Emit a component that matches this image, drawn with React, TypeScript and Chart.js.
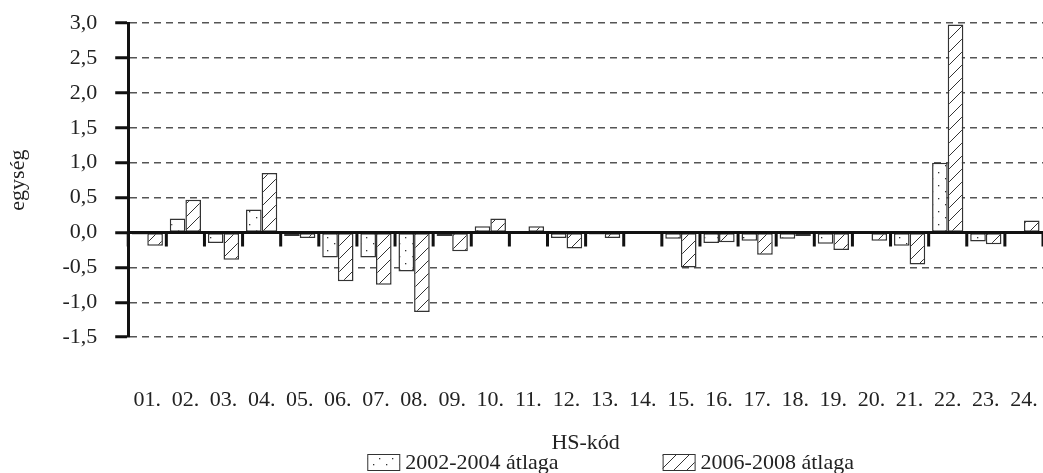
import React, { useEffect, useRef } from 'react';
import { Chart, registerables } from 'chart.js';

Chart.register(...registerables);

const categories = ['01.', '02.', '03.', '04.', '05.', '06.', '07.', '08.', '09.', '10.', '11.', '12.', '13.', '14.', '15.', '16.', '17.', '18.', '19.', '20.', '21.', '22.', '23.', '24.'];
const avg2002_2004 = [-0.03, 0.2, -0.15, 0.33, -0.05, -0.36, -0.36, -0.56, -0.05, 0.09, 0.01, -0.08, -0.03, 0, -0.09, -0.15, -0.12, -0.09, -0.16, -0.01, -0.19, 1.0, -0.13, 0];
const avg2006_2008 = [-0.19, 0.47, -0.39, 0.85, -0.08, -0.7, -0.75, -1.14, -0.27, 0.2, 0.09, -0.23, -0.08, 0, -0.5, -0.14, -0.32, -0.05, -0.25, -0.12, -0.46, 2.98, -0.17, 0.17];
const seriesLabels = ['2002-2004 átlaga', '2006-2008 átlaga'];
const yTicks = { min: -1.5, max: 3, step: 0.5 };
const yTitle = 'egység';
const xTitle = 'HS-kód';

const FONT = '"Liberation Serif", "Times New Roman", serif';
const FSIZE = 22;
const INK = '#222';
const AXIS = '#111';

function makeDots(): CanvasPattern | string {
  const c = document.createElement('canvas');
  c.width = 13;
  c.height = 13;
  const g = c.getContext('2d');
  if (!g) return '#fff';
  g.fillStyle = '#ffffff';
  g.fillRect(0, 0, 13, 13);
  g.fillStyle = '#333';
  g.fillRect(2, 3, 1.3, 1.3);
  g.fillRect(9, 9, 1.3, 1.3);
  return g.createPattern(c, 'repeat') || '#fff';
}

function makeHatch(): CanvasPattern | string {
  const s = 13;
  const c = document.createElement('canvas');
  c.width = s;
  c.height = s;
  const g = c.getContext('2d');
  if (!g) return '#fff';
  g.fillStyle = '#ffffff';
  g.fillRect(0, 0, s, s);
  g.strokeStyle = '#333';
  g.lineWidth = 1;
  g.beginPath();
  g.moveTo(-1, s + 1);
  g.lineTo(s + 1, -1);
  g.moveTo(-2, 2);
  g.lineTo(2, -2);
  g.moveTo(s - 2, s + 2);
  g.lineTo(s + 2, s - 2);
  g.stroke();
  return g.createPattern(c, 'repeat') || '#fff';
}

export default function App() {
  const ref = useRef<HTMLCanvasElement | null>(null);

  useEffect(() => {
    if (!ref.current) return;
    const dots = makeDots();
    const hatch = makeHatch();
    const fills = [dots, hatch];

    const zeroAxisPlugin = {
      id: 'zeroAxis',
      afterDatasetsDraw(chart: any) {
        const ctx = chart.ctx as CanvasRenderingContext2D;
        const xs = chart.scales.x;
        const ys = chart.scales.y;
        const area = chart.chartArea;
        const y0 = ys.getPixelForValue(0);
        const n = categories.length;
        const half = (xs.getPixelForValue(1) - xs.getPixelForValue(0)) / 2;
        ctx.save();
        ctx.strokeStyle = AXIS;
        ctx.lineWidth = 3;
        ctx.beginPath();
        ctx.moveTo(area.left, y0);
        ctx.lineTo(area.right, y0);
        ctx.stroke();
        ctx.beginPath();
        for (let i = 0; i <= n; i++) {
          const xb = xs.getPixelForValue(0) - half + i * 2 * half;
          ctx.moveTo(xb, y0);
          ctx.lineTo(xb, y0 + 14);
        }
        ctx.stroke();
        ctx.restore();
      },
    };

    const legendPlugin = {
      id: 'customLegend',
      afterDraw(chart: any) {
        const ctx = chart.ctx as CanvasRenderingContext2D;
        const area = chart.chartArea;
        ctx.save();
        ctx.font = `${FSIZE}px ${FONT}`;
        ctx.textBaseline = 'middle';
        ctx.textAlign = 'left';
        const boxW = 32;
        const boxH = 16;
        const gapText = 6;
        const gapItems = 104;
        const widths = seriesLabels.map((t) => ctx.measureText(t).width);
        const total = widths.reduce((a, w) => a + boxW + gapText + w, 0) + gapItems;
        let x = (area.left + area.right) / 2 + 25 - total / 2;
        const yc = chart.height - 11;
        seriesLabels.forEach((t, i) => {
          ctx.fillStyle = fills[i] as any;
          ctx.fillRect(x, yc - boxH / 2, boxW, boxH);
          ctx.strokeStyle = '#333';
          ctx.lineWidth = 1;
          ctx.strokeRect(x + 0.5, yc - boxH / 2 + 0.5, boxW, boxH);
          ctx.fillStyle = INK;
          ctx.fillText(t, x + boxW + gapText, yc + 1);
          x += boxW + gapText + widths[i] + gapItems;
        });
        ctx.restore();
      },
    };

    const chart = new Chart(ref.current, {
      type: 'bar',
      data: {
        labels: categories,
        datasets: [
          {
            label: seriesLabels[0],
            data: avg2002_2004,
            backgroundColor: dots as any,
            borderColor: '#333',
            borderWidth: 1.5,
            borderSkipped: false,
            categoryPercentage: 0.82,
            barPercentage: 1,
          },
          {
            label: seriesLabels[1],
            data: avg2006_2008,
            backgroundColor: hatch as any,
            borderColor: '#333',
            borderWidth: 1.5,
            borderSkipped: false,
            categoryPercentage: 0.82,
            barPercentage: 1,
          },
        ],
      },
      options: {
        animation: false,
        responsive: true,
        maintainAspectRatio: false,
        layout: { padding: { top: 23, right: 0, left: 0, bottom: 17 } },
        plugins: {
          legend: { display: false },
          tooltip: { enabled: false },
        },
        scales: {
          x: {
            type: 'category',
            position: 'bottom',
            offset: true,
            grid: { display: false, drawTicks: true, tickLength: 47 },
            border: { display: false },
            ticks: {
              autoSkip: false,
              maxRotation: 0,
              padding: 3,
              color: INK,
              font: { family: FONT, size: FSIZE },
            },
            title: {
              display: true,
              text: xTitle,
              color: INK,
              font: { family: FONT, size: FSIZE },
              padding: { top: 13, bottom: 0 },
            },
          },
          y: {
            position: 'left',
            min: yTicks.min,
            max: yTicks.max,
            afterFit: (s: any) => {
              s.paddingTop = 0;
              s.paddingBottom = 0;
            },
            ticks: {
              stepSize: yTicks.step,
              autoSkip: false,
              padding: 18,
              color: INK,
              font: { family: FONT, size: FSIZE },
              callback: (v: any) => Number(v).toFixed(1).replace('.', ','),
            },
            grid: {
              color: '#555',
              lineWidth: 1.5,
              tickBorderDash: [],
              tickColor: AXIS,
              tickWidth: 3,
              tickLength: 13,
            } as any,
            border: { display: true, color: AXIS, width: 3, dash: [7, 5] },
            title: {
              display: true,
              text: yTitle,
              color: INK,
              font: { family: FONT, size: FSIZE },
              padding: { top: 5, bottom: 13 },
            },
          },
        },
      },
      plugins: [zeroAxisPlugin, legendPlugin],
    });
    return () => chart.destroy();
  }, []);

  return (
    <div style={{ position: 'absolute', left: 0, top: 0, width: 1043, height: 473, background: '#fff' }}>
      <canvas ref={ref} />
    </div>
  );
}
